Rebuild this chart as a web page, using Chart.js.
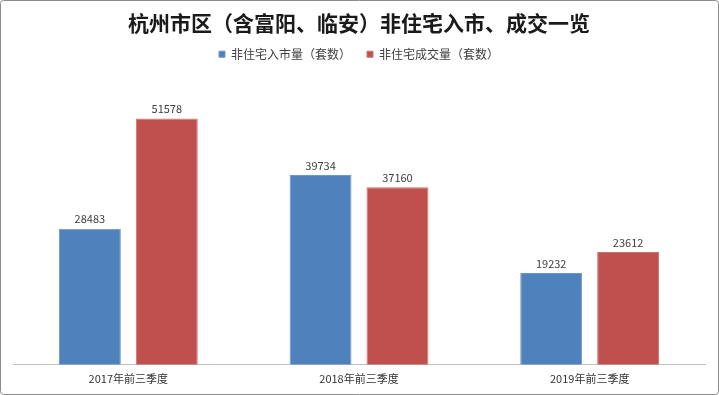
<!DOCTYPE html>
<html>
<head>
<meta charset="utf-8">
<script src="https://cdn.jsdelivr.net/npm/chart.js@4/dist/chart.umd.min.js"></script>
<style>
  html, body { margin: 0; padding: 0; background: #fff; }
  #wrap { width: 719px; height: 395px; position: relative; }
</style>
</head>
<body>
<div id="wrap"><canvas id="chart" width="719" height="395"></canvas></div>
<script>
const categories = ['2017年前三季度', '2018年前三季度', '2019年前三季度'];
const supplyValues = [28483, 39734, 19232];
const dealValues = [51578, 37160, 23612];
const seriesNames = ['非住宅入市量（套数）', '非住宅成交量（套数）'];
const chartTitle = '杭州市区（含富阳、临安）非住宅入市、成交一览';

const FONT = '"Noto Sans CJK SC", "Microsoft YaHei", sans-serif';

// white background + thin grey frame round the whole picture
const framePlugin = {
    id: 'frame',
    beforeDraw(chart) {
        const ctx = chart.ctx;
        ctx.save();
        ctx.fillStyle = '#fff';
        ctx.fillRect(0, 0, chart.width, chart.height);
        ctx.strokeStyle = '#8c8c8c';
        ctx.lineWidth = 1;
        ctx.beginPath();
        ctx.roundRect(0.5, 0.5, chart.width - 1, chart.height - 1, 3);
        ctx.stroke();
        ctx.restore();
    }
};

// value labels above each bar
const valueLabels = {
    id: 'valueLabels',
    afterDatasetsDraw(chart) {
        const ctx = chart.ctx;
        ctx.save();
        ctx.font = '11px ' + FONT;
        ctx.fillStyle = '#404040';
        ctx.textAlign = 'center';
        ctx.textBaseline = 'bottom';
        chart.data.datasets.forEach(function(ds, i) {
            chart.getDatasetMeta(i).data.forEach(function(bar, j) {
                ctx.fillText(String(ds.data[j]), bar.x, bar.y - 4);
            });
        });
        ctx.restore();
    }
};

new Chart(document.getElementById('chart'), {
    type: 'bar',
    data: {
        labels: categories,
        datasets: [{
            label: seriesNames[0],
            data: supplyValues,
            backgroundColor: '#4f81bd',
            borderColor: '#6d96c9',
            borderWidth: 1,
        }, {
            label: seriesNames[1],
            data: dealValues,
            backgroundColor: '#c0504d',
            borderColor: '#cd716e',
            borderWidth: 1,
        }]
    },
    options: {
        responsive: false,
        animation: false,
        devicePixelRatio: 1,
        categoryPercentage: 0.667,
        barPercentage: 0.805,
        layout: { padding: { left: 13, right: 14, top: 6, bottom: 3 } },
        plugins: {
            title: {
                display: true,
                text: chartTitle,
                color: '#1a1a1a',
                font: { family: FONT, size: 21, weight: 'bold' },
                padding: { top: 4, bottom: -3 }
            },
            legend: {
                display: true,
                labels: {
                    color: '#404040',
                    font: { family: FONT, size: 12 },
                    boxWidth: 6,
                    boxHeight: 6,
                    padding: 16
                }
            },
            tooltip: { enabled: false }
        },
        scales: {
            x: {
                grid: { display: false, drawTicks: false },
                border: { display: true, color: '#bfbfbf', width: 1 },
                ticks: {
                    color: '#333',
                    font: { family: FONT, size: 11 },
                    padding: 7
                }
            },
            // empty top strip: gap between legend and plot area
            x2: {
                position: 'top',
                grid: { display: false, drawTicks: false },
                border: { display: false },
                ticks: { display: false },
                afterFit: function(scale) { scale.height = 8; }
            },
            y: {
                display: false,
                min: 0,
                max: 60000
            }
        }
    },
    plugins: [framePlugin, valueLabels]
});
</script>
</body>
</html>
